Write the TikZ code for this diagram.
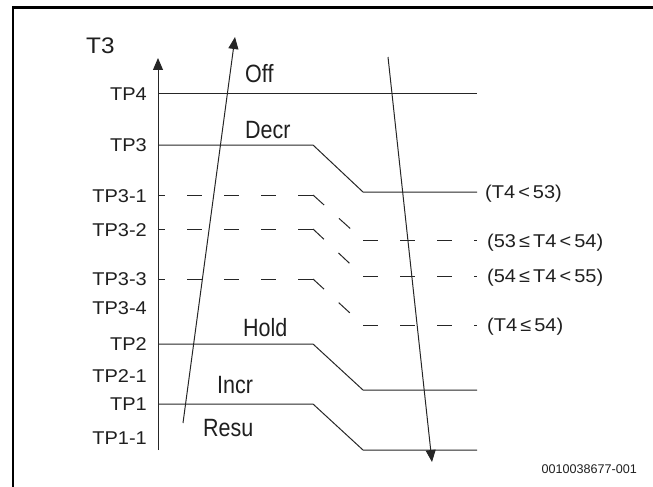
\documentclass[tikz,border=0pt]{standalone}
\usepackage{fontspec}
\setmainfont{Liberation Sans}
\newfontfamily\lblfont[FakeStretch=1.08]{Liberation Sans}
\newfontfamily\condfont[FakeStretch=0.86]{Liberation Sans}
\usetikzlibrary{arrows.meta}
\begin{document}
\begin{tikzpicture}[x=1pt,y=-1pt,
  ln/.style={line width=1pt, draw=black!85},
  dsh/.style={ln, dash pattern=on 15pt off 22pt},
  dshl/.style={ln, dash pattern=on 15pt off 22pt, dash phase=8pt},
  dshd/.style={ln, dash pattern=on 15pt off 20pt},
  arr/.style={ln, -{Triangle[length=12pt,width=10pt]}},
  tp/.style={font=\lblfont\fontsize{18.5}{20}\selectfont, text=black!88, anchor=east, inner sep=0pt, text height=13pt, text depth=0pt},
  cnd/.style={font=\lblfont\fontsize{18.5}{20}\selectfont, text=black!88, anchor=west, inner sep=0pt, text height=13pt, text depth=0pt},
  st/.style={font=\condfont\fontsize{25}{27}\selectfont, text=black!88, anchor=base west, inner sep=0pt}]
\useasboundingbox (0,0) rectangle (653,487);
% frame
\draw[line width=2.5pt, line join=miter] (13,487) -- (13,7.5) -- (653,7.5);
% axis
\draw[arr] (158,450) -- (158,58);
\node[font=\lblfont\fontsize{22.5}{24}\selectfont, text=black!88, anchor=base west, inner sep=0pt] (t3) at (86,53.5) {T3};
% solid levels
\draw[ln] (158,93) -- (477,93);
\draw[ln] (158,145) -- (313,145) -- (363,192) -- (477,192);
\draw[ln] (158,344) -- (313,344) -- (363,390) -- (477,390);
\draw[ln] (158,404) -- (313,404) -- (363,450) -- (477,450);
% dashed levels
\draw[dshl] (158,195) -- (313,195);
\draw[dshd] (313,195) -- (363,240);
\draw[dsh] (363,240) -- (477,240);
\draw[dshl] (158,229) -- (313,229);
\draw[dshd] (313,229) -- (363,276);
\draw[dsh] (363,276) -- (477,276);
\draw[dshl] (158,279) -- (313,279);
\draw[dshd] (313,279) -- (363,325);
\draw[dsh] (363,325) -- (477,325);
% tilted arrows
\draw[arr] (183,423) -- (235,37);
\draw[arr] (388,57) -- (432,462);
% TP labels
\node[tp] (tp4) at (147,94) {TP4};
\node[tp] (tp3) at (147,145) {TP3};
\node[tp] (tp31) at (147,196) {TP3-1};
\node[tp] (tp32) at (147,230) {TP3-2};
\node[tp] (tp33) at (147,279) {TP3-3};
\node[tp] (tp34) at (147,308) {TP3-4};
\node[tp] (tp2) at (147,344) {TP2};
\node[tp] (tp21) at (147,376) {TP2-1};
\node[tp] (tp1) at (147,404) {TP1};
\node[tp] (tp11) at (147,438) {TP1-1};
% state labels
\node[st] (off) at (245,82) {Off};
\node[st] (decr) at (245,138) {Decr};
\node[st] (hold) at (243,336) {Hold};
\node[st] (incr) at (217,393) {Incr};
\node[st] (resu) at (203,436) {Resu};
% condition labels
\node[cnd] (c1) at (485,192) {(T4\,<\,53)};
\node[cnd] (c2) at (487,241) {(53\,≤\,T4\,<\,54)};
\node[cnd] (c3) at (487,276) {(54\,≤\,T4\,<\,55)};
\node[cnd] (c4) at (487,325) {(T4\,≤\,54)};
% footer
\node[font=\fontsize{12.6}{14}\selectfont, text=black!88, anchor=east, inner sep=0pt, text height=9pt, text depth=0pt] (id) at (637,469) {0010038677-001};
\end{tikzpicture}
\end{document}
